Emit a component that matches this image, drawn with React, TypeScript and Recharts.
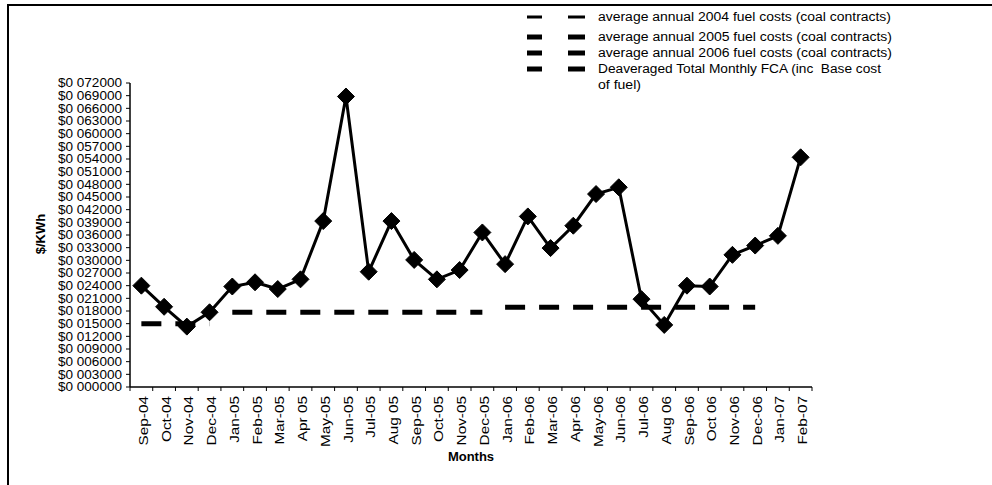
import React from 'react';
import { LineChart, Line, XAxis, YAxis, Legend } from 'recharts';

const months = ['Sep-04','Oct-04','Nov-04','Dec-04','Jan-05','Feb-05','Mar-05','Apr 05','May-05','Jun-05','Jul-05','Aug 05','Sep-05','Oct-05','Nov-05','Dec-05','Jan-06','Feb-06','Mar-06','Apr-06','May-06','Jun-06','Jul-06','Aug 06','Sep-06','Oct 06','Nov-06','Dec-06','Jan-07','Feb-07'];

const fca = [0.0240,0.0190,0.0143,0.0177,0.0238,0.0248,0.0232,0.0255,0.0393,0.0688,0.0273,0.0393,0.0301,0.0255,0.0277,0.0366,0.0291,0.0404,0.0329,0.0382,0.0457,0.0473,0.0208,0.0147,0.0240,0.0238,0.0313,0.0335,0.0358,0.0544];

const avg2004 = [0.0150,0.0150,0.0150,0.0150,null,null,null,null,null,null,null,null,null,null,null,null,null,null,null,null,null,null,null,null,null,null,null,null,null,null];
const avg2005 = [null,null,null,null,0.0177,0.0177,0.0177,0.0177,0.0177,0.0177,0.0177,0.0177,0.0177,0.0177,0.0177,0.0177,null,null,null,null,null,null,null,null,null,null,null,null,null,null];
const avg2006 = [null,null,null,null,null,null,null,null,null,null,null,null,null,null,null,null,0.0189,0.0189,0.0189,0.0189,0.0189,0.0189,0.0189,0.0189,0.0189,0.0189,0.0189,0.0189,null,null];

const yTicks = [0,0.003,0.006,0.009,0.012,0.015,0.018,0.021,0.024,0.027,0.030,0.033,0.036,0.039,0.042,0.045,0.048,0.051,0.054,0.057,0.060,0.063,0.066,0.069,0.072];

const seriesNames = [
  'average annual 2004 fuel costs (coal contracts)',
  'average annual 2005 fuel costs (coal contracts)',
  'average annual 2006 fuel costs (coal contracts)',
  'Deaveraged Total Monthly FCA (inc  Base cost',
];
const seriesNameCont = 'of fuel)';

const data = months.map((m, i) => ({
  month: m,
  fca: fca[i],
  a2004: avg2004[i],
  a2005: avg2005[i],
  a2006: avg2006[i],
}));

const FONT = '"Liberation Sans", Arial, Helvetica, sans-serif';

const fmtY = (v: number) => '$0 ' + String(Math.round(v * 1e6)).padStart(6, '0');

const YTick = (props: any) => {
  const { x, y, payload } = props;
  return (
    <text x={x} y={y} dy="0.35em" textAnchor="end" fontSize={12} fontFamily={FONT} fill="#000"
      textLength={64} lengthAdjust="spacingAndGlyphs">
      {fmtY(payload.value)}
    </text>
  );
};

const XTick = (props: any) => {
  const { x, y, payload, index } = props;
  const off = payload && payload.offset ? payload.offset : 11.4;
  return (
    <g>
      {index === 0 && <line x1={x - off} x2={x - off} y1={y} y2={y + 4} stroke="#000" strokeWidth={1} />}
      <line x1={x + off} x2={x + off} y1={y} y2={y + 4} stroke="#000" strokeWidth={1} />
      <text transform={`translate(${x + 2},${y + 9}) rotate(-90) scale(1.18,1)`} dy="0.35em" textAnchor="end"
        fontSize={13} fontFamily={FONT} fill="#000">
        {payload.value}
      </text>
    </g>
  );
};

const Diamond = (props: any) => {
  const { cx, cy } = props;
  if (cx == null || cy == null) return null;
  const r = 8.5;
  return <polygon points={`${cx},${cy - r} ${cx + r},${cy} ${cx},${cy + r} ${cx - r},${cy}`} fill="#000" stroke="#000" />;
};

const LegendContent = () => {
  const rows = [
    { y: 13, thin: true, len: 293 },
    { y: 33, thin: false, len: 294 },
    { y: 49, thin: false, len: 294 },
    { y: 65, thin: false, len: 283 },
  ];
  return (
    <svg width={420} height={95} style={{ display: 'block' }}>
      {seriesNames.map((n, i) => (
        <g key={n}>
          <line x1={0} x2={15} y1={rows[i].y} y2={rows[i].y} stroke="#000" strokeWidth={rows[i].thin ? 3 : 5} />
          <line x1={41} x2={58} y1={rows[i].y} y2={rows[i].y} stroke="#000" strokeWidth={rows[i].thin ? 3 : 5} />
          <text x={71} y={rows[i].y} dy="0.35em" fontSize={12} fontFamily={FONT} fill="#000"
            textLength={rows[i].len} lengthAdjust="spacingAndGlyphs" style={{ whiteSpace: 'pre' }}>{n}</text>
        </g>
      ))}
      <text x={71} y={81} dy="0.35em" fontSize={12} fontFamily={FONT} fill="#000"
        textLength={43} lengthAdjust="spacingAndGlyphs">{seriesNameCont}</text>
    </svg>
  );
};

export default function App() {
  return (
    <div style={{ position: 'absolute', left: 0, top: 0, width: 992, height: 485, background: '#fff', overflow: 'hidden' }}>
      <div style={{ position: 'absolute', left: 7, top: 4, width: 990, height: 490, borderLeft: '2.5px solid #000', borderTop: '2.5px solid #000' }} />
      <LineChart width={992} height={485} data={data} margin={{ top: 83, right: 180, left: 0, bottom: 0 }}>
        <XAxis dataKey="month" type="category" scale="band" height={98} interval={0} tickLine={false} tickSize={0} tickMargin={0}
          axisLine={{ stroke: '#000', strokeWidth: 1.5 }} tick={<XTick />}
          label={{
            content: (p: any) => {
              const vb = p.viewBox;
              return <text x={vb.x + vb.width / 2} y={vb.y + 69} dy="0.35em" textAnchor="middle" fontSize={13} fontWeight="bold" fontFamily={FONT} fill="#000">Months</text>;
            },
          }} />
        <YAxis type="number" width={130} domain={[0, 0.072]} ticks={yTicks} interval={0}
          axisLine={{ stroke: '#000', strokeWidth: 1.5 }} tickLine={{ stroke: '#000' }} tickSize={4} tickMargin={4}
          tick={<YTick />}
          label={{
            content: (p: any) => {
              const vb = p.viewBox;
              const cy = vb.y + vb.height / 2 - 1;
              return <text transform={`translate(40,${cy}) rotate(-90)`} dy="0.35em" textAnchor="middle" fontSize={13} fontWeight="bold" fontFamily={FONT} fill="#000">$/KWh</text>;
            },
          }} />
        <Legend layout="vertical" align="center" verticalAlign="middle" content={<LegendContent />}
          wrapperStyle={{ position: 'absolute', left: 527, top: 4, width: 420, height: 95 }} />
        <Line dataKey="a2004" stroke="#000" strokeWidth={5} strokeDasharray="20 14" dot={false} isAnimationActive={false} connectNulls={false} />
        <Line dataKey="a2005" stroke="#000" strokeWidth={5} strokeDasharray="20 14" dot={false} isAnimationActive={false} connectNulls={false} />
        <Line dataKey="a2006" stroke="#000" strokeWidth={5} strokeDasharray="20 14" dot={false} isAnimationActive={false} connectNulls={false} />
        <Line dataKey="fca" stroke="#000" strokeWidth={3} dot={<Diamond />} isAnimationActive={false} />
      </LineChart>
    </div>
  );
}
